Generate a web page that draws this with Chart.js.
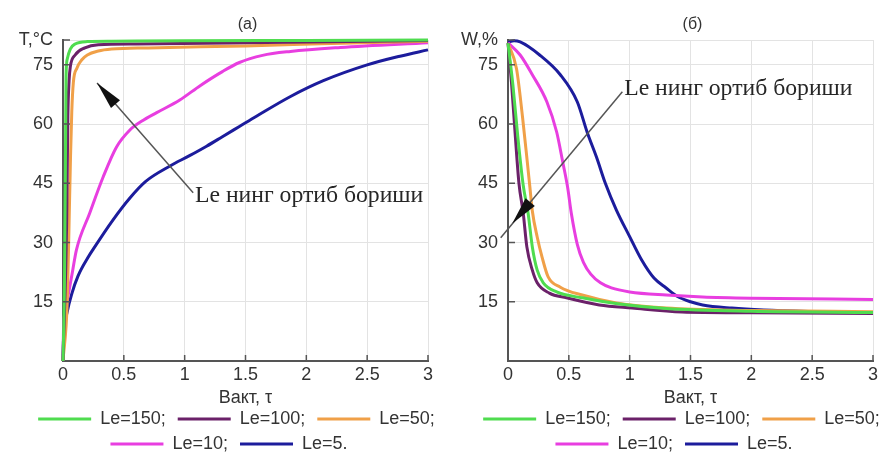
<!DOCTYPE html>
<html><head><meta charset="utf-8">
<script src="https://cdn.jsdelivr.net/npm/chart.js@4/dist/chart.umd.min.js"></script>
<style>html,body{margin:0;padding:0;background:#fff;} #wrap{display:flex;width:890px;height:452px;} canvas{display:block;}</style>
</head><body><div id="wrap"><canvas id="ca" width="445" height="452"></canvas><canvas id="cb" width="445" height="452"></canvas></div>
<script>
// ---- data ----
const legendLabels = ['Le=150; ', 'Le=100; ', 'Le=50;', 'Le=10; ', 'Le=5.   '];
const seriesColors = ['#4fdc4f', '#6b2169', '#f0a048', '#e83ee0', '#1c1c9c'];
const xTicks = [0, 0.5, 1, 1.5, 2, 2.5, 3];
const yTicks = [0, 15, 30, 45, 60, 75];
const yMax = 81.3;
const titles = ['(a)', '(б)'];
const yLabels = ['T,°C', 'W,%'];
const xTitle = 'Вакт, τ';
const noteText = 'Le нинг ортиб бориши';

// panel (a): temperature T
const tA150 = [0, 0.012, 0.02, 0.025, 0.035, 0.06, 0.1, 0.2, 0.4, 1, 2, 3];
const TA150 = [0, 20, 50, 72, 76.5, 79, 80.3, 80.9, 81, 81.1, 81.2, 81.3];
const tA100 = [0, 0.03, 0.04, 0.05, 0.06, 0.1, 0.18, 0.29, 0.6, 1.5, 3];
const TA100 = [0, 35, 62, 71, 74.5, 77.5, 79.3, 80.1, 80.3, 80.6, 81.2];
const tA50 = [0, 0.035, 0.05, 0.062, 0.072, 0.085, 0.115, 0.155, 0.2, 0.29, 0.4, 0.7, 1.5, 2.2, 3];
const TA50 = [0, 15, 35, 52, 63, 70.5, 74.2, 76.3, 77.5, 78.5, 79, 79.3, 79.8, 80.4, 81];
const tA10 = [0, 0.004, 0.016, 0.04, 0.08, 0.11, 0.22, 0.33, 0.44, 0.55, 0.66, 0.77, 0.96, 1.13, 1.31, 1.45, 1.64, 1.87, 2.28, 3];
const TA10 = [0, 8, 12.2, 16.2, 23, 28.1, 37.5, 46.6, 54.2, 58.5, 61, 62.9, 66.1, 69.8, 73.3, 75.6, 77.4, 78.4, 79.4, 80.6];
const tA5 = [0, 0.004, 0.033, 0.074, 0.123, 0.205, 0.25, 0.41, 0.55, 0.68, 0.88, 1.04, 1.18, 1.31, 1.45, 1.59, 1.87, 2.14, 2.5, 2.77, 3];
const TA5 = [0, 5.3, 12.2, 17.2, 21.5, 26.2, 28.4, 35.7, 41.3, 45.5, 49.4, 52, 54.4, 56.8, 59.4, 62, 67, 71, 75, 77.2, 78.8];

// panel (б): moisture W
const tB150 = [0, 0.04, 0.08, 0.125, 0.165, 0.2, 0.24, 0.29, 0.4, 0.61, 0.9, 1.3, 2, 3];
const WB150 = [80.5, 70, 57, 44.5, 37.5, 28.9, 23, 19.8, 17.5, 16, 14.5, 13.3, 12.6, 12.3];
const tB100 = [0, 0.03, 0.06, 0.09, 0.125, 0.155, 0.2, 0.24, 0.34, 0.48, 0.75, 1.02, 1.43, 2, 3];
const WB100 = [80.5, 70, 57, 45, 37.5, 28.9, 23, 19.8, 17.2, 16, 14.2, 13.4, 12.4, 12.2, 12];
const tB50 = [0, 0.07, 0.12, 0.16, 0.18, 0.2, 0.24, 0.28, 0.33, 0.43, 0.61, 0.89, 1.3, 2, 3];
const WB50 = [80.5, 74, 61.6, 50, 44, 38, 31.4, 26.3, 21.3, 18.7, 16.7, 14.7, 13.4, 12.8, 12.5];
const tB10 = [0, 0.1, 0.2, 0.32, 0.4, 0.45, 0.49, 0.52, 0.57, 0.62, 0.68, 0.76, 0.85, 1.0, 1.3, 1.6, 2.0, 3.0];
const WB10 = [80.6, 77.5, 72.5, 65.6, 58, 50.4, 44, 37.5, 29.5, 25, 22, 19.8, 18.5, 17.5, 16.7, 16.2, 15.9, 15.6];
const tB5 = [0, 0.05, 0.1, 0.26, 0.43, 0.57, 0.65, 0.73, 0.8, 0.89, 1.0, 1.1, 1.2, 1.3, 1.39, 1.5, 1.6, 1.84, 2.1, 2.5, 3];
const WB5 = [80.8, 81.1, 80.8, 77.5, 72.5, 65.6, 58, 51.4, 45, 38.3, 31.5, 25.5, 21, 18.5, 16.4, 15, 14.2, 13.4, 12.9, 12.5, 12.2];

// ---- chart building ----
Chart.defaults.font.family = "'Liberation Sans', Arial, sans-serif";
Chart.defaults.color = '#333';

function pts(xs, ys) { return xs.map((x, i) => ({x: x, y: ys[i]})); }

const inwardTicks = {
  id: 'inwardTicks',
  afterDraw(chart) {
    const ctx = chart.ctx, xs = chart.scales.x, ys = chart.scales.y;
    const a = chart.chartArea;
    ctx.save();
    ctx.strokeStyle = '#555';
    ctx.lineWidth = 1.5;
    ctx.beginPath();
    xTicks.forEach(v => { if (v === 0) return; const p = xs.getPixelForValue(v); ctx.moveTo(p, a.bottom); ctx.lineTo(p, a.bottom - 6); });
    yTicks.concat([yMax]).forEach(v => { if (v === 0) return; const p = ys.getPixelForValue(v); ctx.moveTo(a.left, p); ctx.lineTo(a.left + 7, p); });
    ctx.stroke();
    ctx.restore();
  }
};

const boxShift = {
  id: 'boxShift',
  afterLayout(chart) {
    const lg = chart.legend;
    if (lg) { lg.left += 14; lg.right += 14; }
    const tb = chart.titleBlock;
    if (tb) { tb.left += 25; tb.right += 25; }
  }
};

const noteArrow = {
  id: 'noteArrow',
  afterDraw(chart, args, opts) {
    const ctx = chart.ctx, xs = chart.scales.x, ys = chart.scales.y;
    const P = v => [xs.getPixelForValue(v[0]), ys.getPixelForValue(v[1])];
    const tail = P(opts.tail), end = P(opts.end), tip = P(opts.tip), txt = P(opts.text);
    ctx.save();
    ctx.strokeStyle = '#555';
    ctx.lineWidth = 1.5;
    ctx.beginPath(); ctx.moveTo(tail[0], tail[1]); ctx.lineTo(end[0], end[1]); ctx.stroke();
    const ang = Math.atan2(tip[1] - tail[1], tip[0] - tail[0]);
    const L = 28, W = 6;
    const bx = tip[0] - Math.cos(ang) * L, by = tip[1] - Math.sin(ang) * L;
    ctx.fillStyle = '#111';
    ctx.beginPath();
    ctx.moveTo(tip[0], tip[1]);
    ctx.lineTo(bx + Math.sin(ang) * W, by - Math.cos(ang) * W);
    ctx.lineTo(bx - Math.sin(ang) * W, by + Math.cos(ang) * W);
    ctx.closePath(); ctx.fill();
    ctx.font = "23.7px 'Liberation Serif', 'DejaVu Serif', serif";
    ctx.fillStyle = '#262626';
    ctx.textAlign = 'left';
    ctx.textBaseline = 'alphabetic';
    ctx.fillText(noteText, txt[0], txt[1]);
    ctx.restore();
  }
};

function makeChart(id, xsList, ysList, title, yLabel, note) {
  const datasets = xsList.map((xs, i) => ({
    label: legendLabels[i],
    data: pts(xs, ysList[i]),
    borderColor: seriesColors[i],
    backgroundColor: seriesColors[i],
    borderWidth: 3,
    pointRadius: 0,
    cubicInterpolationMode: 'monotone',
    clip: 4
  }));
  return new Chart(document.getElementById(id), {
    type: 'line',
    data: {datasets},
    plugins: [inwardTicks, noteArrow, boxShift],
    options: {
      responsive: false,
      animation: false,
      devicePixelRatio: 1,
      layout: {padding: {left: 0, right: 0, top: 0, bottom: -11}},
      plugins: {
        tooltip: {enabled: false},
        title: {display: true, text: title, font: {size: 16, weight: 'normal'}, color: '#333', padding: {top: 15.4, bottom: 5.4}},
        legend: {
          position: 'bottom',
          labels: {usePointStyle: true, pointStyle: 'line', pointStyleWidth: 53, font: {size: 18}, padding: 7, color: '#333'}
        },
        noteArrow: note
      },
      scales: {
        x: {
          type: 'linear', min: 0, max: 3,
          afterBuildTicks: s => { s.ticks = xTicks.map(v => ({value: v})); },
          afterFit: s => { s.height = 42; },
          ticks: {font: {size: 18}, color: '#333', padding: 3, maxRotation: 0, callback: v => String(v)},
          grid: {color: '#e3e3e3', lineWidth: 1, drawTicks: false},
          border: {color: '#555', width: 2},
          title: {display: true, text: xTitle, font: {size: 18, lineHeight: 0.6}, color: '#333', padding: 0}
        },
        y: {
          type: 'linear', min: 0, max: yMax,
          afterBuildTicks: s => { s.ticks = yTicks.concat([yMax]).map(v => ({value: v})); },
          afterFit: s => { s.width = 63; },
          ticks: {font: {size: 18}, color: '#333', padding: 10, callback: v => v === yMax ? yLabel : (v === 0 ? '' : String(v))},
          grid: {color: '#e3e3e3', lineWidth: 1, drawTicks: false},
          border: {color: '#555', width: 2}
        },
        yr: {
          type: 'linear', position: 'right', display: true,
          afterFit: s => { s.width = 17; },
          ticks: {display: false}, grid: {display: false}, border: {display: false}
        }
      }
    }
  });
}

makeChart('ca', [tA150, tA100, tA50, tA10, tA5], [TA150, TA100, TA50, TA10, TA5], titles[0], yLabels[0],
  {tail: [1.07, 42.6], end: [0.28, 70.4], tip: [0.28, 70.4], text: [1.085, 40.2]});
makeChart('cb', [tB150, tB100, tB50, tB10, tB5], [WB150, WB100, WB50, WB10, WB5], titles[1], yLabels[1],
  {tail: [0.94, 68.2], end: [-0.06, 31.2], tip: [0.035, 34.8], text: [0.955, 67.3]});
</script></body></html>
